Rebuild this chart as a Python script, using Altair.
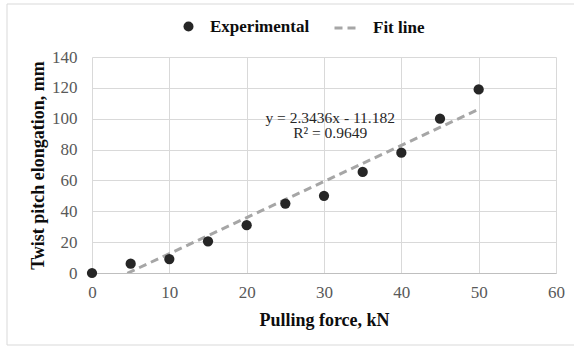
import altair as alt
import pandas as pd

force_kn = [0, 5, 10, 15, 20, 25, 30, 35, 40, 45, 50]
elongation_mm = [0, 6, 9, 20.5, 31, 45, 50, 65.5, 78, 100, 119]
eq_lines = ["y = 2.3436x - 11.182", "R² = 0.9649"]
eq_x = [30.8, 30.8]
eq_y = [100.7, 90.6]

df = pd.DataFrame({"x": force_kn, "y": elongation_mm,
                   "s": ["Experimental"] * len(force_kn),
                   "f": ["Fit line"] * len(force_kn)})
eq_df = pd.DataFrame({"t": eq_lines, "x": eq_x, "y": eq_y})

SERIF = "Liberation Serif"
GRID = "#d9d9d9"

xs = alt.Scale(domain=[0, 60], nice=False, zero=False)
ys = alt.Scale(domain=[0, 140], nice=False)

x_axis = alt.Axis(values=[0, 10, 20, 30, 40, 50, 60], title="Pulling force, kN",
                  ticks=False, labelPadding=11, labelFont=SERIF, labelFontSize=17,
                  labelColor="#595959", titleFont=SERIF, titleFontSize=18,
                  titleFontWeight="bold", titleColor="#0d0d0d", titleX=232, titleY=47,
                  titleBaseline="middle", gridColor=GRID, domainColor="#bfbfbf",
                  labelFlush=False, labelOverlap=False)
y_axis = alt.Axis(values=[0, 20, 40, 60, 80, 100, 120, 140],
                  title="Twist pitch elongation, mm", ticks=False, labelPadding=15,
                  labelFont=SERIF, labelFontSize=17, labelColor="#595959",
                  titleFont=SERIF, titleFontSize=18, titleFontWeight="bold",
                  titleColor="#0d0d0d", titleX=-54, titleY=108, titleBaseline="middle",
                  gridColor=GRID, domain=False, labelOverlap=False, labelFlush=False)

base = alt.Chart(df)

border = alt.Chart(pd.DataFrame({"a": [1]})).mark_rect(
    fill=None, stroke=GRID, strokeWidth=1
).encode(x=alt.value(-85), x2=alt.value(520), y=alt.value(-53), y2=alt.value(288))

fit = base.transform_regression("x", "y", groupby=["f"]).mark_line(
    clip=True, color="#a6a6a6", strokeWidth=3
).encode(
    x=alt.X("x:Q", scale=xs, axis=x_axis),
    y=alt.Y("y:Q", scale=ys, axis=y_axis),
    strokeDash=alt.StrokeDash(
        "f:N",
        scale=alt.Scale(domain=["Fit line"], range=[[8, 5]]),
        legend=alt.Legend(title=None, orient="none", legendX=241, legendY=-43,
                          symbolType="stroke", symbolSize=625, symbolStrokeWidth=3,
                          symbolStrokeColor="#a6a6a6", labelFont=SERIF,
                          labelFontSize=17, labelFontWeight="bold",
                          labelColor="#0d0d0d", labelOffset=12, padding=0),
    ),
)

pts = base.mark_point(filled=True, size=105, opacity=1).encode(
    x=alt.X("x:Q", scale=xs, axis=x_axis),
    y=alt.Y("y:Q", scale=ys, axis=y_axis),
    color=alt.Color(
        "s:N",
        scale=alt.Scale(domain=["Experimental"], range=["#262626"]),
        legend=alt.Legend(title=None, orient="none", legendX=88, legendY=-39,
                          symbolType="circle", symbolSize=100, symbolOpacity=1,
                          labelFont=SERIF, labelFontSize=17, labelFontWeight="bold",
                          labelColor="#0d0d0d", labelOffset=13, padding=0),
    ),
)

eq = alt.Chart(eq_df).mark_text(font=SERIF, fontSize=15.5, color="#262626").encode(
    x=alt.X("x:Q", scale=xs, axis=x_axis),
    y=alt.Y("y:Q", scale=ys, axis=y_axis),
    text="t:N",
)

chart = alt.layer(border, fit, pts, eq).resolve_legend(
    color="independent", strokeDash="independent"
).properties(
    width=464, height=216,
    autosize=alt.AutoSizeParams(type="none"),
    padding={"left": 92, "top": 57, "right": 18, "bottom": 74},
    background="white",
).configure_view(stroke=None)

chart.save("out.html", embed_options={"renderer": "svg", "actions": False})
